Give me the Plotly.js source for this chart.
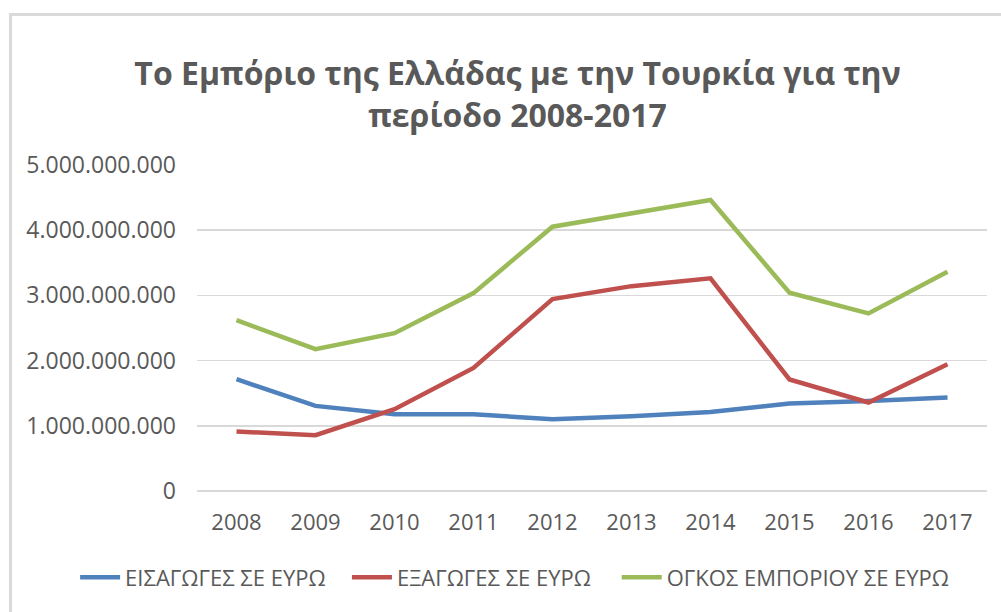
<!DOCTYPE html>
<html>
<head>
<meta charset="utf-8">
<script src="https://cdn.plot.ly/plotly-3.0.1.min.js"></script>
<style>
  html, body { margin: 0; padding: 0; background: #ffffff; }
  #wrap { position: relative; width: 1001px; height: 612px; overflow: hidden; }
  #chart { position: absolute; left: 0; top: 0; width: 1001px; height: 612px; }
  #frame { position: absolute; left: 9px; top: 13px; width: 1100px; height: 700px;
           border-left: 3px solid #d9d9d9; border-top: 3px solid #d9d9d9; pointer-events: none; }
</style>
</head>
<body>
<div id="wrap">
  <div id="chart"></div>
  <div id="frame"></div>
</div>
<script>
const years = ['2008','2009','2010','2011','2012','2013','2014','2015','2016','2017'];
const imports = [1.715e9, 1.305e9, 1.177e9, 1.177e9, 1.100e9, 1.147e9, 1.213e9, 1.342e9, 1.382e9, 1.434e9];
const exports = [0.912e9, 0.855e9, 1.254e9, 1.888e9, 2.943e9, 3.142e9, 3.261e9, 1.710e9, 1.357e9, 1.945e9];
const volume  = [2.620e9, 2.175e9, 2.420e9, 3.035e9, 4.053e9, 4.263e9, 4.463e9, 3.040e9, 2.723e9, 3.362e9];
const seriesNames = ['ΕΙΣΑΓΩΓΕΣ ΣΕ ΕΥΡΩ', 'ΕΞΑΓΩΓΕΣ ΣΕ ΕΥΡΩ', 'ΟΓΚΟΣ ΕΜΠΟΡΙΟΥ ΣΕ ΕΥΡΩ'];
const yTicks = [0, 1e9, 2e9, 3e9, 4e9, 5e9];
const titleText = 'Το Εμπόριο της Ελλάδας με την Τουρκία για την<br>περίοδο 2008-2017';

const colors = ['#4F81BD', '#C0504D', '#9BBB59'];
const values = [imports, exports, volume];
const legendIds = ['legend', 'legend2', 'legend3'];
const legendX = [-0.1543, 0.1898, 0.5313];
const font = 'Open Sans, sans-serif';

const traces = values.map((v, i) => ({
  type: 'scatter', mode: 'lines', x: years, y: v, name: seriesNames[i],
  line: { color: colors[i], width: 4.5 }, hoverinfo: 'x+y+name',
  legend: legendIds[i]
}));

const layout = {
  width: 1001, height: 612,
  margin: { l: 197, r: 13.5, t: 165, b: 121.3 },
  paper_bgcolor: '#ffffff', plot_bgcolor: '#ffffff',
  separators: ',.',
  font: { family: font, color: '#595959' },
  title: {
    text: titleText,
    font: { family: font, size: 32, color: '#595959', weight: 'bold' },
    x: 0.517, xanchor: 'center', y: 0.861, yanchor: 'middle', yref: 'container'
  },
  xaxis: {
    type: 'category', range: [-0.5, years.length - 0.5],
    showgrid: false, zeroline: false, showline: false,
    ticks: '', tickfont: { family: font, size: 22, color: '#595959' },
    ticklabelstandoff: 16, fixedrange: true
  },
  yaxis: {
    range: [0, 5e9], tickvals: yTicks, tickformat: ',d',
    showgrid: true, gridcolor: '#d9d9d9', gridwidth: 1.5,
    zeroline: true, zerolinecolor: '#d9d9d9', zerolinewidth: 1.5,
    showline: false, ticks: '',
    tickfont: { family: font, size: 23, color: '#595959' },
    ticklabelstandoff: 20, fixedrange: true
  },
  showlegend: true
};
legendIds.forEach((id, i) => {
  layout[id] = {
    orientation: 'h', x: legendX[i], xanchor: 'left', y: -0.265, yanchor: 'middle',
    font: { family: font, size: 22, color: '#595959' },
    itemwidth: 40, bgcolor: 'rgba(0,0,0,0)'
  };
});

Plotly.newPlot('chart', traces, layout, { displayModeBar: false, staticPlot: true });
</script>
</body>
</html>
